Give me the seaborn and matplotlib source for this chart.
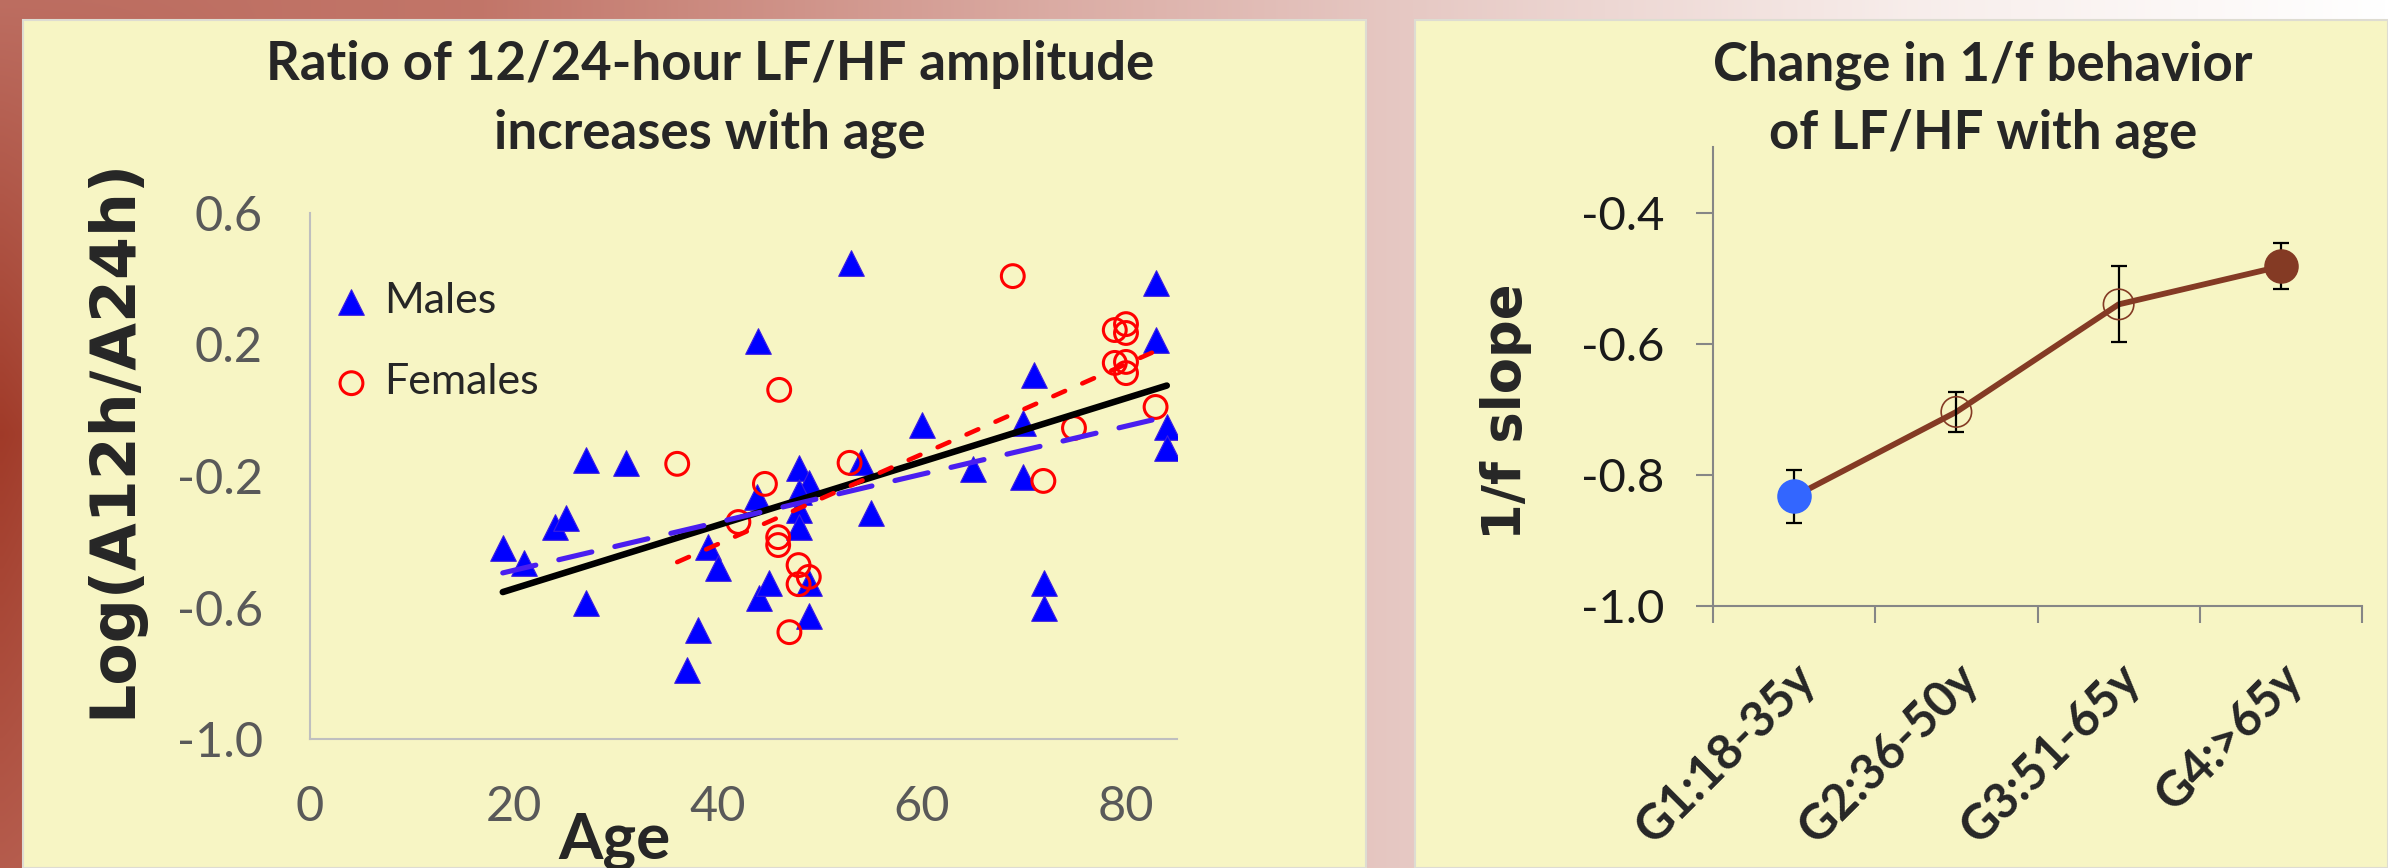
import numpy as np
import seaborn as sns
import matplotlib.pyplot as plt
import matplotlib.transforms as mtransforms
from matplotlib.patches import Rectangle

# left panel: log(A12h/A24h) against age
MALE_AGE = [18.9, 21, 24, 25.1, 27.1, 27.1, 31, 37, 38, 39, 40, 43.8, 44, 43.9, 45,
            47.9, 48.9, 47.9, 47.9, 47.9, 48.9, 48.9, 53, 54, 55, 60, 65, 69.9, 69.9,
            71, 72, 72, 82.9, 82.9, 84, 84]
MALE_LOGRATIO = [-0.42, -0.465, -0.355, -0.328, -0.151, -0.586, -0.16, -0.79, -0.668,
                 -0.416, -0.48, -0.264, -0.571, 0.21, -0.525, -0.176, -0.221, -0.249,
                 -0.303, -0.355, -0.525, -0.626, 0.448, -0.157, -0.312, -0.045, -0.18,
                 -0.039, -0.203, 0.107, -0.526, -0.6, 0.387, 0.214, -0.05, -0.115]
FEMALE_AGE = [36, 42, 44.6, 46, 45.9, 45.9, 47.9, 48.9, 47.9, 47, 52.9, 68.9, 71.9,
              74.9, 78.9, 80, 80, 78.9, 80, 80, 82.9]
FEMALE_LOGRATIO = [-0.163, -0.34, -0.224, 0.062, -0.386, -0.41, -0.471, -0.507, -0.529,
                   -0.675, -0.16, 0.408, -0.215, -0.054, 0.244, 0.262, 0.235, 0.144,
                   0.147, 0.113, 0.01]
AGE_TICKS = [0, 20, 40, 60, 80]
RATIO_TICKS = [-1.0, -0.6, -0.2, 0.2, 0.6]

# right panel: 1/f slope of LF/HF per age group
GROUPS = ["G1:18-35y", "G2:36-50y", "G3:51-65y", "G4:>65y"]
SLOPE = [-0.833, -0.704, -0.540, -0.482]
SLOPE_ERR = [0.040, 0.030, 0.058, 0.035]
SLOPE_TICKS = [-1.0, -0.8, -0.6, -0.4]

W, H = 2388, 868
CREAM = "#F7F5C4"
BROWN = "#843A24"
GROUP_FACE = ["#3366FF", "none", "none", BROWN]


def fx(px):
    return px / W


def fy(py):
    return 1 - py / H


sns.set_style("white")
plt.rcParams["font.family"] = ["Lato", "DejaVu Sans"]
plt.rcParams["axes.unicode_minus"] = False

fig = plt.figure(figsize=(W / 100, H / 100), dpi=100)

# slide background gradient + cream panels
bg = fig.add_axes([0, 0, 1, 1])
xs = np.linspace(0, 1, 400)
ys = np.linspace(0, 1, 200)
top_x = [0, 0.2, 0.45, 0.58, 0.8, 1.0]
top_c = np.array([[0.74, 0.43, 0.38], [0.76, 0.46, 0.41], [0.86, 0.68, 0.65],
                  [0.90, 0.78, 0.76], [0.97, 0.93, 0.92], [1, 1, 1]])
left_c = np.array([[0.74, 0.43, 0.38], [0.63, 0.23, 0.16], [0.71, 0.36, 0.30]])
T = np.stack([np.interp(xs, top_x, top_c[:, k]) for k in range(3)], -1)
L = np.stack([np.interp(ys, [0, 0.5, 1], left_c[:, k]) for k in range(3)], -1)
a = np.clip(xs / 0.12, 0, 1)
img = L[:, None, :] * (1 - a)[None, :, None] + T[None, :, :] * a[None, :, None]
bg.imshow(img, extent=[0, 1, 0, 1], aspect="auto", origin="upper", interpolation="bilinear")
bg.add_patch(Rectangle((fx(23), 0), fx(1366) - fx(23), fy(20), facecolor=CREAM,
                       edgecolor="#DEDCD2", lw=1.5))
bg.add_patch(Rectangle((fx(1415), 0), 1 - fx(1415), fy(20), facecolor=CREAM,
                       edgecolor="#DEDCD2", lw=1.5))
bg.set_xlim(0, 1)
bg.set_ylim(0, 1)
bg.axis("off")

# ---- left chart
ax1 = fig.add_axes([fx(310), fy(739), (1177 - 310) / W, (739 - 213) / H])
ax1.set_facecolor("none")
sns.scatterplot(x=MALE_AGE, y=MALE_LOGRATIO, marker="^", s=340, color="#0000FF",
                edgecolor="#3D1FE0", linewidth=0.8, label="Males", ax=ax1, zorder=3)
sns.scatterplot(x=FEMALE_AGE, y=FEMALE_LOGRATIO, marker="o", s=270, facecolor="none",
                edgecolor="#FF0000", linewidth=2.2, label="Females", ax=ax1, zorder=4)
sns.regplot(x=MALE_AGE + FEMALE_AGE, y=MALE_LOGRATIO + FEMALE_LOGRATIO, scatter=False,
            ci=None, color="black", ax=ax1,
            line_kws=dict(lw=4.7, solid_capstyle="round", zorder=5))
sns.regplot(x=MALE_AGE, y=MALE_LOGRATIO, scatter=False, ci=None, color="#4A1EF0", ax=ax1,
            line_kws=dict(lw=3.7, dashes=(6.6, 4.6), dash_capstyle="round", zorder=6))
sns.regplot(x=FEMALE_AGE, y=FEMALE_LOGRATIO, scatter=False, ci=None, color="#FF0000", ax=ax1,
            line_kws=dict(lw=3.3, dashes=(2.8, 4.1), dash_capstyle="round", zorder=7))

ax1.set_xlim(0, 85)
ax1.set_ylim(-1.0, 0.6)
ax1.set_xticks(AGE_TICKS, [str(t) for t in AGE_TICKS])
ax1.set_yticks(RATIO_TICKS, [f"{t:.1f}" for t in RATIO_TICKS])
ax1.set_xlabel("")
ax1.set_ylabel("")
for side in ["top", "right"]:
    ax1.spines[side].set_visible(False)
for side in ["left", "bottom"]:
    ax1.spines[side].set_color("#BFBFBF")
    ax1.spines[side].set_linewidth(1.5)
ax1.tick_params(axis="x", direction="in", length=11.5, width=1.5, color="#BFBFBF",
                pad=33, labelsize=35, labelcolor="#595959")
ax1.tick_params(axis="y", length=0, pad=34, labelsize=35, labelcolor="#595959")
ax1.legend(loc="upper left", bbox_to_anchor=(0.023, 0.868), frameon=False, fontsize=31,
           handlelength=1.0, handletextpad=0.25, labelspacing=1.0, borderpad=0,
           borderaxespad=0)

fig.text(fx(710), fy(80), "Ratio of 12/24-hour LF/HF amplitude", ha="center",
         va="baseline", fontsize=38, fontweight="bold")
fig.text(fx(710), fy(148), "increases with age", ha="center", va="baseline",
         fontsize=38, fontweight="bold")
fig.text(fx(614), fy(858), "Age", ha="center", va="baseline", fontsize=46,
         fontweight="bold")
fig.text(fx(113), fy(438), "Log(A12h/A24h)", rotation=90, ha="center", va="center",
         fontsize=44.5, fontweight="bold", family="DejaVu Sans")

# ---- right chart
ax2 = fig.add_axes([fx(1713), fy(606), (2362 - 1713) / W, (606 - 147) / H])
ax2.set_facecolor("none")
pos = list(range(len(GROUPS)))
sns.lineplot(x=pos, y=SLOPE, color=BROWN, lw=4.2, ax=ax2, zorder=2)
ax2.errorbar(pos, SLOPE, yerr=SLOPE_ERR, fmt="none", ecolor="black", elinewidth=1.6,
             capsize=6, capthick=1.6, zorder=3)
for i in pos:
    face = GROUP_FACE[i]
    sns.scatterplot(x=[pos[i]], y=[SLOPE[i]], marker="o",
                    s=560 if face != "none" else 480, facecolor=face,
                    edgecolor=BROWN if face == "none" else face,
                    linewidth=1.2, ax=ax2, zorder=4)

ax2.set_xlim(-0.5, 3.5)
ax2.set_ylim(-1.0, -0.3)
ax2.set_yticks(SLOPE_TICKS, [f"{t:.1f}" for t in SLOPE_TICKS])
ax2.set_xticks([p - 0.5 for p in pos] + [pos[-1] + 0.5], [""] * (len(pos) + 1))
ax2.set_xticks(pos, GROUPS, minor=True, rotation=45, ha="right", va="center",
               rotation_mode="anchor", fontweight="bold", fontsize=35)
ax2.set_xlabel("")
ax2.set_ylabel("")
for side in ["top", "right"]:
    ax2.spines[side].set_visible(False)
for side in ["left", "bottom"]:
    ax2.spines[side].set_color("#868686")
    ax2.spines[side].set_linewidth(1.5)
ax2.tick_params(axis="x", which="major", direction="out", length=12, width=1.5,
                color="#868686", bottom=True)
ax2.tick_params(axis="x", which="minor", length=0, pad=47, bottom=True)
ax2.tick_params(axis="y", direction="out", length=12, width=1.5, color="#868686",
                left=True, pad=23, labelsize=34, labelcolor="#1A1A1A")
shift = mtransforms.ScaledTranslation(0.14, 0, fig.dpi_scale_trans)
for lab in ax2.get_xticklabels(minor=True):
    lab.set_transform(lab.get_transform() + shift)

fig.text(fx(1983), fy(80), "Change in 1/f behavior", ha="center", va="baseline",
         fontsize=38, fontweight="bold")
fig.text(fx(1983), fy(148), "of LF/HF with age", ha="center", va="baseline",
         fontsize=38, fontweight="bold")
fig.text(fx(1506), fy(412), "1/f slope", rotation=90, ha="center", va="center",
         fontsize=38, fontweight="bold", family="DejaVu Sans")

fig.savefig("out.png", dpi=100)
